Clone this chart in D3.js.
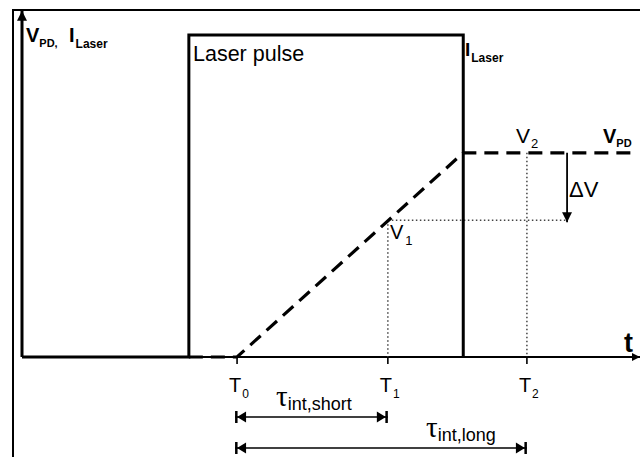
<!DOCTYPE html>
<html>
<head>
<meta charset="utf-8">
<script src="https://cdn.jsdelivr.net/npm/d3@7"></script>
<style>
  body { margin: 0; background: #fff; }
  svg { display: block; font-family: "Liberation Sans", Arial, sans-serif; }
</style>
</head>
<body>
<svg id="chart" width="640" height="457"></svg>
<script>
// Time axis in arbitrary units (0..100), signal axis in arbitrary units (0..100)
const laserT = [0, 27.0, 27.0, 71.4, 71.4];
const laserI = [0, 0, 100, 100, 0];

const vpdT = [27.0, 34.8, 71.4, 99.5];
const vpdV = [0, 0, 63.4, 63.4];

const tickNames = ['0', '1', '2'];
const tickTimes = [34.8, 59.2, 81.7];

const V1 = 42.5;
const V2 = 63.4;
const deltaT = 88.2;

const tauNames = ['int,short', 'int,long'];
const tauEnds = [59.2, 81.7];

const width = 640, height = 457;

const x = d3.scaleLinear().domain([0, 100]).range([22, 640]);
const y = d3.scaleLinear().domain([0, 100]).range([357, 35]);

const svg = d3.select('#chart');

// Frame (top + left edge of the figure box)
svg.append('path')
    .attr('d', `M13,${height} V10 H${width}`)
    .attr('fill', 'none')
    .attr('stroke', '#000')
    .attr('stroke-width', 2);

// Arrowheads
const defs = svg.append('defs');
defs.append('marker')
    .attr('id', 'head')
    .attr('viewBox', '0 0 10 10')
    .attr('refX', 10).attr('refY', 5)
    .attr('markerWidth', 10).attr('markerHeight', 8)
    .attr('markerUnits', 'userSpaceOnUse')
    .attr('orient', 'auto')
    .append('path').attr('d', 'M0,0 L10,5 L0,10 Z').attr('fill', '#000');

defs.append('marker')
    .attr('id', 'bigHead')
    .attr('viewBox', '0 0 10 10')
    .attr('refX', 10).attr('refY', 5)
    .attr('markerWidth', 13).attr('markerHeight', 10)
    .attr('markerUnits', 'userSpaceOnUse')
    .attr('orient', 'auto')
    .append('path').attr('d', 'M0,0 L10,5 L0,10 Z').attr('fill', '#000');

// bar + triangle heads for the tau spans
defs.append('marker')
    .attr('id', 'barHead')
    .attr('viewBox', '0 0 12 12')
    .attr('refX', 12).attr('refY', 6)
    .attr('markerWidth', 12).attr('markerHeight', 12)
    .attr('markerUnits', 'userSpaceOnUse')
    .attr('orient', 'auto-start-reverse')
    .append('path')
    .attr('d', 'M1,0.5 L10,6 L1,11.5 Z M9.5,0 H12 V12 H9.5 Z')
    .attr('fill', '#000');

// Axes
svg.append('line')
    .attr('x1', x(0)).attr('y1', y(0))
    .attr('x2', x(0)).attr('y2', y(107.5))
    .attr('stroke', '#000').attr('stroke-width', 3)
    .attr('marker-end', 'url(#bigHead)');

svg.append('line')
    .attr('x1', x(0)).attr('y1', y(0))
    .attr('x2', x(100)).attr('y2', y(0))
    .attr('stroke', '#000').attr('stroke-width', 1.8)
    .attr('marker-end', 'url(#head)');

// Time ticks
svg.selectAll('.tick')
    .data(tickTimes)
    .enter().append('line')
    .attr('x1', d => x(d)).attr('x2', d => x(d))
    .attr('y1', y(0)).attr('y2', y(0) + 7)
    .attr('stroke', '#000').attr('stroke-width', 1.6);

// Dotted helper lines
const dotted = g => g.attr('stroke', '#444').attr('stroke-width', 1.5)
    .attr('stroke-dasharray', '1.5,2.5').attr('fill', 'none');

svg.append('line').call(dotted)
    .attr('x1', x(tickTimes[1])).attr('x2', x(tickTimes[1]))
    .attr('y1', y(V1)).attr('y2', y(0));
svg.append('line').call(dotted)
    .attr('x1', x(tickTimes[2])).attr('x2', x(tickTimes[2]))
    .attr('y1', y(V2)).attr('y2', y(0));
svg.append('line').call(dotted)
    .attr('x1', x(tickTimes[1])).attr('x2', x(deltaT))
    .attr('y1', y(V1)).attr('y2', y(V1));

// Laser pulse
const line = d3.line().x(d => x(d[0])).y(d => y(d[1]));
svg.append('path')
    .datum(d3.zip(laserT, laserI))
    .attr('d', line)
    .attr('fill', 'none')
    .attr('stroke', '#000')
    .attr('stroke-width', 3);

// Photodiode voltage (dashed)
svg.append('path')
    .datum(d3.zip(vpdT, vpdV))
    .attr('d', line)
    .attr('fill', 'none')
    .attr('stroke', '#000')
    .attr('stroke-width', 3.2)
    .attr('stroke-dasharray', '14,8');

// Delta V arrow
svg.append('line')
    .attr('x1', x(deltaT)).attr('x2', x(deltaT))
    .attr('y1', y(V2)).attr('y2', y(V1) + 2)
    .attr('stroke', '#000').attr('stroke-width', 1.8)
    .attr('marker-end', 'url(#bigHead)');

// tau spans
const tauY = [417, 448];
svg.selectAll('.tau')
    .data(tauEnds)
    .enter().append('line')
    .attr('x1', x(tickTimes[0]) - 2).attr('x2', d => x(d))
    .attr('y1', (d, i) => tauY[i]).attr('y2', (d, i) => tauY[i])
    .attr('stroke', '#000').attr('stroke-width', 1.6)
    .attr('marker-start', 'url(#barHead)')
    .attr('marker-end', 'url(#barHead)');

// ---- Text labels ----
function label(xp, yp, main, sub, opts) {
    opts = opts || {};
    const t = svg.append('text')
        .attr('x', xp).attr('y', yp)
        .attr('font-size', opts.size || 20)
        .attr('font-weight', opts.bold ? 'bold' : 'normal')
        .attr('font-family', opts.family || null);
    t.append('tspan').text(main);
    if (sub) {
        t.append('tspan')
            .attr('font-size', opts.subSize || 12)
            .attr('font-family', '"Liberation Sans", Arial, sans-serif')
            .attr('dy', opts.subDy || 5)
            .attr('dx', opts.subDx || 0)
            .text(sub);
    }
    return t;
}

// top-left axis title
label(26, 42, 'V', 'PD,', { bold: true, size: 20, subSize: 11, subDy: 5 });
label(69, 42, 'I', 'Laser', { bold: true, size: 20, subSize: 12, subDy: 6, subDx: 1 });

svg.append('text')
    .attr('x', 193).attr('y', 61)
    .attr('font-size', 21.5)
    .text('Laser pulse');

label(465, 56, 'I', 'Laser', { bold: true, size: 19, subSize: 12, subDy: 6, subDx: 1 });

label(516, 143, 'V', '2', { size: 21, subSize: 13, subDy: 5, subDx: 1 });
label(603, 143, 'V', 'PD', { bold: true, size: 20, subSize: 11, subDy: 4 });
label(569, 197, '\u0394V', null, { size: 22 });
label(390, 239, 'V', '1', { size: 20, subSize: 13, subDy: 6, subDx: 2 });

svg.append('text')
    .attr('x', 624).attr('y', 352)
    .attr('font-size', 27)
    .attr('font-weight', 'bold')
    .text('t');

// T labels under ticks
svg.selectAll('.tlabel')
    .data(tickTimes)
    .enter().each(function(d, i) {
        label(x(d) - 8, 392, 'T', tickNames[i], { size: 20, subSize: 12, subDy: 6, subDx: 1 });
    });

// tau labels
const tauX = [276, 426];
const tauBase = [406, 437];
tauNames.forEach((name, i) => {
    label(tauX[i], tauBase[i], '\u03C4', name,
          { size: 29, family: '"Liberation Serif", "Times New Roman", serif', subSize: 18, subDy: 4, subDx: 0 });
});
</script>
</body>
</html>
